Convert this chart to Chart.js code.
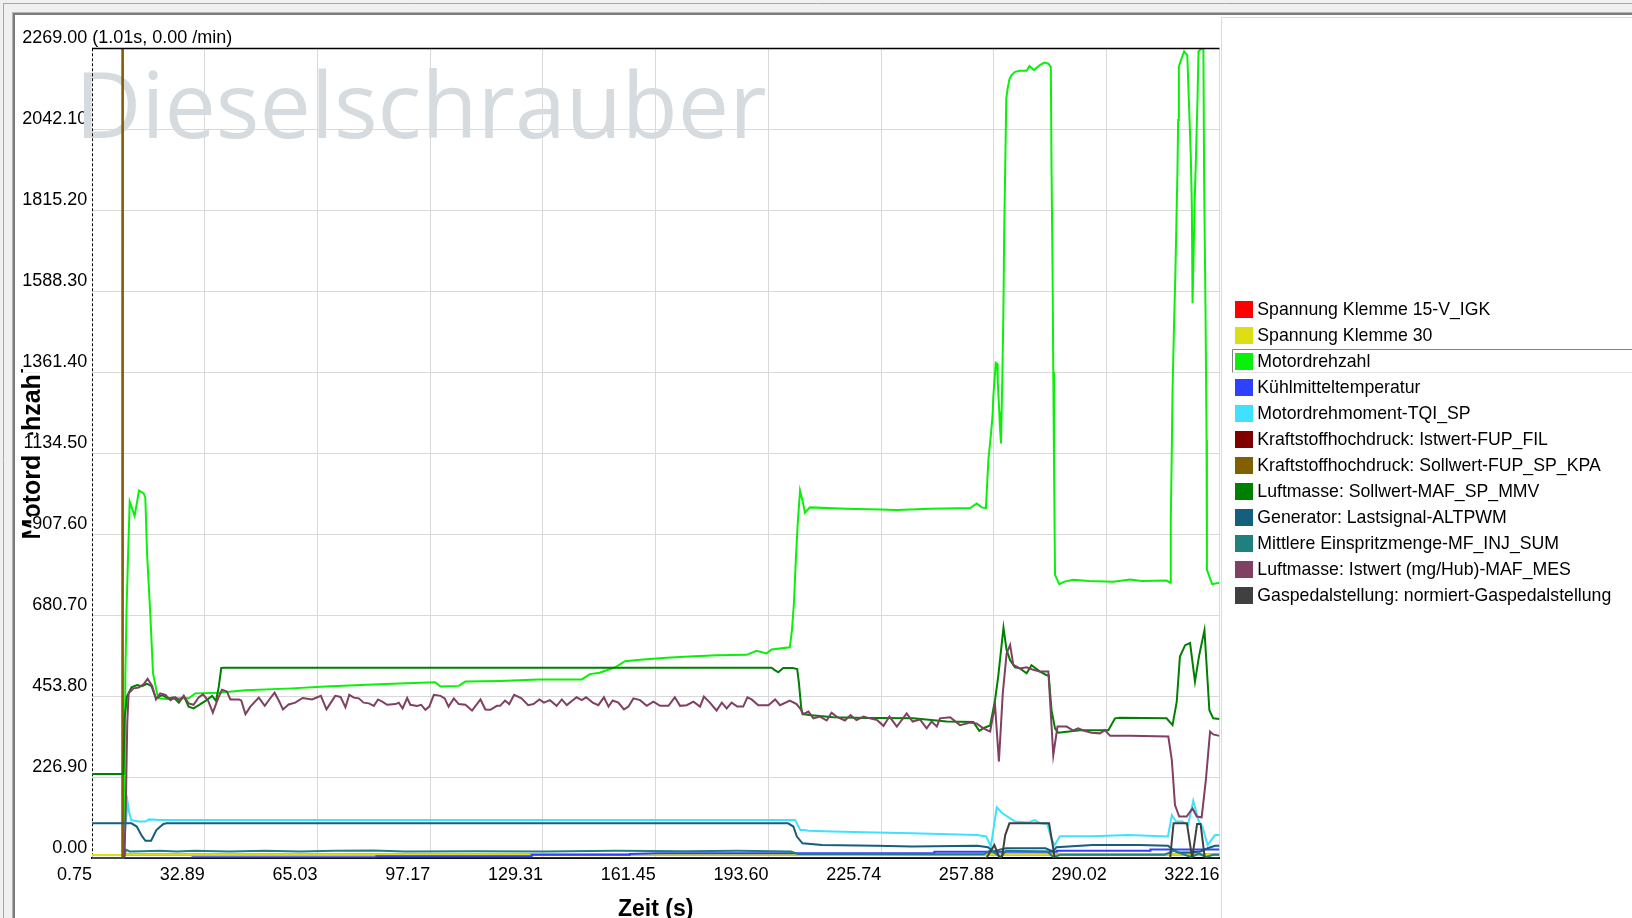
<!DOCTYPE html>
<html>
<head>
<meta charset="utf-8">
<script src="https://cdn.jsdelivr.net/npm/chart.js@4.4.1/dist/chart.umd.min.js"></script>
<style>
html,body{margin:0;padding:0;background:#fff;overflow:hidden;}
#wrap{position:relative;width:1632px;height:918px;}
canvas{display:block;}
</style>
</head>
<body>
<div id="wrap"><canvas id="c" width="1632" height="918"></canvas></div>
<script>
// ---------------- DATA ----------------
const seriesLabels = [
  'Spannung Klemme 15-V_IGK',
  'Spannung Klemme 30',
  'Motordrehzahl',
  'Kühlmitteltemperatur',
  'Motordrehmoment-TQI_SP',
  'Kraftstoffhochdruck: Istwert-FUP_FIL',
  'Kraftstoffhochdruck: Sollwert-FUP_SP_KPA',
  'Luftmasse: Sollwert-MAF_SP_MMV',
  'Generator: Lastsignal-ALTPWM',
  'Mittlere Einspritzmenge-MF_INJ_SUM',
  'Luftmasse: Istwert (mg/Hub)-MAF_MES',
  'Gaspedalstellung: normiert-Gaspedalstellung'
];
const seriesColors = ['#ff0000','#dede14','#0af00a','#3040ff','#40e0ff','#800000','#806000','#008000','#145e7e','#208080','#7f4062','#404040'];

const xTickValues = [0.75, 32.89, 65.03, 97.17, 129.31, 161.45, 193.60, 225.74, 257.88, 290.02, 322.16];
const xTickLabels = ['0.75','32.89','65.03','97.17','129.31','161.45','193.60','225.74','257.88','290.02','322.16'];
const yTickValues = [0, 226.9, 453.8, 680.7, 907.6, 1134.5, 1361.4, 1588.3, 1815.2, 2042.1, 2269];
const yTickLabels = ['0.00','226.90','453.80','680.70','907.60','1134.50','1361.40','1588.30','1815.20','2042.10','2269.00'];
const cursorInfo = '(1.01s, 0.00 /min)';
const xTitle = 'Zeit (s)';
const yTitle = 'Motordrehzahl';
const watermarkText = 'Dieselschrauber';

// [time s, value]
const klemme15 = [[0.75,9],[9.5,9],[10,10.5],[322.16,10.5]];
const klemme30 = [[0.75,9],[9.5,9],[10,10.5],[322.16,10.5]];
const motordrehzahl = [[0.75,0],[9.9,0],[10.25,509],[10.6,700],[11.0,836],[11.5,999],[12.0,985],[12.9,959],[14.15,1030],[15.5,1022],[15.95,1010],[16.45,854],[17.4,677],[18.15,518],[19.3,462],[19.8,448],[22,446],[26,448],[28.3,448],[30.2,462],[36.9,464],[44.5,471],[57.8,476],[67.3,481],[84.4,488],[98.6,493],[100.1,481],[105.3,483],[107.2,495],[117.1,497],[128,501],[140.4,501],[142.7,516],[145.5,520],[149.9,535],[152.7,552],[157.9,557],[164.6,562],[171,565],[178.8,569],[187.4,570],[190.2,581],[193.1,574],[194.5,585],[199.7,591],[200.3,640],[200.9,720],[201.4,836],[201.9,930],[202.6,1030],[203.4,999],[204.0,968],[205.4,983],[215.9,979],[225.4,977],[230.2,976],[239.7,979],[251.1,981],[253.0,994],[254.4,983],[255.6,981],[256.3,1116],[257.1,1195],[257.5,1242],[257.7,1293],[258.4,1388],[258.8,1385],[258.95,1340],[259.4,1251],[259.6,1209],[259.9,1162],[260.1,1162],[260.3,1359],[260.6,1550],[260.8,1746],[261.1,1937],[261.4,2129],[261.8,2157],[262.3,2182],[262.9,2194],[263.9,2203],[265.3,2206],[267.2,2206],[268.0,2219],[269.3,2208],[271.0,2222],[272.3,2229],[273.4,2226],[274.1,2217],[274.3,1933],[274.6,1648],[274.8,1363],[275.0,1116],[275.3,794],[276.5,768],[278,775],[280.5,780],[285,777],[291.9,775],[296.7,781],[300,777],[307.1,778],[308.1,772],[308.3,948],[308.55,1116],[308.8,1307],[309.2,1485],[309.6,1634],[309.9,1779],[310.2,1923],[310.4,2068],[310.6,2217],[311.2,2236],[312.1,2260],[313.0,2250],[313.5,2110],[314.0,1970],[314.3,1830],[314.5,1555],[314.8,1690],[315.1,1835],[315.5,1975],[315.9,2119],[316.2,2260],[317.1,2269],[317.6,2265],[317.8,1905],[318.2,1536],[318.5,1172],[318.6,808],[320.1,768],[322.16,772]];
const kuehlmittel = [[0.75,1],[29.3,1],[29.4,3],[81.7,3],[81.8,6],[126,6],[126.1,10],[154,10],[154.1,12],[162,14],[240.8,14],[240.9,18],[275.7,18],[275.8,21],[302.4,21],[302.5,25],[322.16,25]];
const drehmomentTQI = [[0.75,0],[9.6,0],[10.0,60],[10.9,158],[11.4,126],[11.95,107],[14.0,103],[16.0,103],[17.0,109],[20,107],[201.2,107],[202.7,79],[203.8,79],[205,77],[212.0,75],[224.3,72],[234.6,70],[253.1,65],[255.7,61],[257.0,33],[258.7,143],[260.3,126],[263.9,103],[267.5,100],[269.5,107],[271.1,98],[273.1,96],[274.2,56],[275.2,37],[276.7,62],[286.0,62],[296.2,65],[307.5,61],[308.6,121],[309.8,103],[311.6,103],[313.2,93],[314.7,161],[316.3,103],[317.3,89],[318.8,37],[320.9,65],[322.16,65]];
const fupIst = [[0.75,0],[9.45,0],[9.7,30000],[322.16,30000]];
const fupSoll = [[0.75,0],[9.5,0],[9.75,35000],[322.16,35000]];
const mafSoll = [[0.75,236],[9.7,236],[10.0,387],[10.7,453],[12.0,479],[13.6,485],[15.0,482],[16.4,489],[17.7,482],[19.0,448],[20.7,457],[22.6,448],[24.0,451],[25.5,436],[26.9,455],[28.3,425],[29.7,420],[31.2,429],[33.1,441],[35.0,455],[36.1,441],[36.9,481],[37.6,533],[38.5,534],[194.5,534],[195.3,528],[196.4,521],[197.8,533],[200.5,533],[201.8,530],[202.3,490],[202.9,425],[203.3,404],[205.9,401],[212.1,395],[221.6,393],[225.4,393],[234.9,392],[244.4,383],[252.0,382],[253.7,357],[255.0,365],[256.8,372],[258.2,443],[259.1,509],[260.6,646],[261.5,583],[262.5,555],[263.9,535],[265.3,532],[267.2,518],[268.6,541],[271.0,523],[272.9,513],[273.5,513],[274.3,415],[275.3,364],[276.2,352],[282.4,359],[290.5,359],[292.4,392],[293.8,394],[307.1,392],[308.8,373],[310.0,439],[310.9,565],[312.4,597],[313.8,603],[315.2,495],[316.4,569],[317.9,639],[319.3,415],[320.4,392],[322.16,390]];
const generatorLast = [[0.75,98],[12.0,98],[13.5,89],[15.0,62],[16.0,49],[17.6,49],[19.1,79],[21.1,96],[22,98],[199.2,98],[200.7,89],[201.7,61],[203.3,42],[208.9,37],[224.3,35],[234.6,33],[253.1,35],[256.2,31],[257.7,19],[259.8,25],[261.3,28],[272.6,28],[274.7,19],[275.7,31],[286.0,37],[299.3,37],[307.5,35],[309.1,23],[310.6,16],[313.6,16],[316.8,19],[318.8,28],[320.9,35],[322.16,35]];
const einspritzmenge = [[0.75,0],[9.8,0],[10.4,24],[11.5,19],[15,20],[20,21],[25,19],[30,21],[40,19],[50,21],[60,19],[70,21],[81,22],[90,19],[110,20],[130,19],[150,21],[170,20],[185,21],[200,19],[202,12],[220,12],[240,11],[255,11],[257,23],[259.8,3],[261.3,21],[273.1,19],[274.9,3],[276.7,10],[306.5,10],[309.1,21],[314.2,3],[316.3,14],[318.3,3],[320.4,10],[322.16,10]];
const mafIst = [[0.75,0],[10.0,0],[10.4,150],[10.8,380],[11.2,462],[12.6,476],[14.05,478],[15.5,488],[16.6,503],[17.9,483],[19.0,445],[20.2,462],[21.7,458],[23.1,443],[24.5,451],[25.7,442],[26.9,455],[28.3,434],[29.7,430],[31.2,451],[32.4,459],[33.8,443],[35.2,408],[36.7,448],[37.8,472],[39.2,467],[40.2,445],[42.6,445],[43.3,442],[44.5,404],[45.9,425],[48.3,450],[50.0,427],[51.1,442],[52.8,464],[54.0,442],[55.2,417],[56.8,431],[58.7,436],[60.8,449],[63.5,445],[66.0,455],[67.6,417],[68.7,434],[70.1,455],[71.6,452],[73.0,423],[74.1,458],[75.4,450],[76.8,448],[78.2,436],[79.7,434],[81.1,427],[82.3,445],[83.5,439],[84.9,430],[87.3,432],[88.2,436],[89.3,420],[90.6,449],[91.5,430],[93.4,427],[94.6,430],[95.8,416],[96.9,425],[98.2,458],[100.1,455],[101.3,448],[102.4,425],[103.9,448],[105.3,432],[107.2,430],[109.1,414],[111.5,445],[112.9,417],[114.3,416],[116.2,427],[117.1,427],[118.5,442],[119.7,432],[121.1,458],[123.2,448],[125.1,429],[126.6,432],[128.3,445],[129.6,436],[131.3,443],[133.2,427],[134.7,445],[136.1,429],[138.9,451],[140.4,443],[141.6,451],[143.5,436],[145.1,429],[146.7,451],[148.0,425],[149.2,442],[150.8,436],[152.4,417],[153.7,425],[155.1,448],[157.0,443],[158.9,427],[160.8,439],[162.7,427],[165.1,427],[166.9,451],[168.4,427],[170.3,429],[172.2,439],[174.1,425],[175.2,453],[176.9,436],[178.8,414],[180.3,436],[181.7,420],[183.1,436],[184.7,425],[186.4,425],[187.6,451],[188.8,445],[190.7,429],[193.6,429],[195.5,445],[196.9,429],[199.7,442],[201.6,432],[202.6,420],[203.5,404],[205.0,411],[206.4,392],[208.3,397],[210.2,386],[211.6,408],[213.0,397],[215.4,386],[217.0,401],[218.7,387],[220.7,397],[222.5,392],[224.6,387],[226.4,371],[228.1,397],[230.2,369],[233.0,406],[234.7,383],[236.8,389],[238.7,364],[240.1,383],[241.6,369],[242.5,392],[245.4,395],[248.2,373],[251.1,380],[252.9,378],[254.9,364],[256.8,355],[258.2,429],[259.3,271],[260.4,462],[261.5,574],[262.5,598],[263.4,542],[265.3,532],[267.2,535],[269.1,528],[271.0,523],[273.4,523],[274.8,289],[276.0,369],[278.6,369],[280.5,358],[281.9,364],[283.4,358],[285.7,352],[288.1,350],[289.5,359],[291.0,343],[296.7,343],[307.6,341],[308.6,275],[309.5,149],[310.7,117],[312.8,117],[314.5,140],[315.7,117],[317.1,115],[318.3,219],[319.5,355],[320.4,347],[322.16,343]];
const gaspedal = [[0.75,0],[255.7,0],[258.0,37],[259.5,0],[260.2,5],[261.1,65],[262.3,98],[273.6,98],[274.7,33],[275.2,0],[308.1,0],[309.1,98],[312.9,98],[314.4,0],[315.8,96],[316.8,96],[318.0,0],[322.16,0]];

const seriesData = [klemme15, klemme30, motordrehzahl, kuehlmittel, drehmomentTQI, fupIst, fupSoll, mafSoll, generatorLast, einspritzmenge, mafIst, gaspedal];

const TICK_FAMILY = '"Liberation Sans", Arial, sans-serif';
const TICK_SIZE = 18;
const Y_TICK_PAD = 4.7;

// ---------------- PLUGINS ----------------
const framePlugin = {
  id: 'frame',
  beforeDraw(chart) {
    const c = chart.ctx;
    c.save();
    c.fillStyle = '#f0f0f0';
    c.fillRect(0, 0, 1632, 918);
    c.fillStyle = '#ffffff';
    c.fillRect(15, 15, 1617, 903);
    const hl = (y, x0, col, w) => { c.strokeStyle = col; c.lineWidth = w; c.beginPath(); c.moveTo(x0, y); c.lineTo(1632, y); c.stroke(); };
    const vl = (x, y0, col, w) => { c.strokeStyle = col; c.lineWidth = w; c.beginPath(); c.moveTo(x, y0); c.lineTo(x, 918); c.stroke(); };
    hl(3.5, 3, '#a8a8a8', 1);
    vl(3.5, 3, '#a8a8a8', 1);
    hl(12.5, 12, '#b4b4b4', 1);
    vl(12.5, 12, '#b4b4b4', 1);
    hl(14, 13, '#7c7c7c', 2);
    vl(14, 13, '#7c7c7c', 2);
    c.restore();
  },
  beforeDatasetsDraw(chart) {
    const c = chart.ctx;
    const a = chart.chartArea;
    c.save();
    c.font = '91.5px "Open Sans", "Noto Sans", sans-serif';
    c.fillStyle = '#d6dbdf';
    c.textBaseline = 'alphabetic';
    c.textAlign = 'left';
    c.fillText(watermarkText, 75, 138.3);
    // dashed left border of the plot
    c.strokeStyle = '#000';
    c.lineWidth = 1;
    c.setLineDash([3, 2]);
    const x = Math.round(a.left) + 0.5;
    c.beginPath();
    c.moveTo(x, a.top);
    c.lineTo(x, a.bottom);
    c.stroke();
    c.restore();
  },
  afterDraw(chart) {
    const c = chart.ctx;
    const a = chart.chartArea;
    const ys = chart.scales.y;
    c.save();
    // cursor info next to the top tick label
    c.font = TICK_SIZE + 'px ' + TICK_FAMILY;
    c.textBaseline = 'middle';
    c.textAlign = 'left';
    c.fillStyle = '#000';
    c.fillText(cursorInfo, ys.right - Y_TICK_PAD + c.measureText(' ').width, ys.getPixelForValue(yTickValues[yTickValues.length - 1]) - 10);
    // top border of plot
    c.strokeStyle = '#000';
    c.lineWidth = 1.3;
    c.beginPath();
    c.moveTo(a.left, 48.5);
    c.lineTo(a.right, 48.5);
    c.stroke();
    // legend panel
    c.strokeStyle = '#dcdcdc';
    c.lineWidth = 1;
    c.beginPath();
    c.moveTo(1221.5, 918);
    c.lineTo(1221.5, 17.5);
    c.lineTo(1632, 17.5);
    c.stroke();
    c.font = '17.7px "Liberation Sans", Arial, sans-serif';
    c.textBaseline = 'middle';
    c.textAlign = 'left';
    chart.data.datasets.forEach((ds, i) => {
      const top = 301 + 26 * i;
      c.fillStyle = ds.borderColor;
      c.fillRect(1235, top, 18, 17);
      c.fillStyle = '#000';
      c.fillText(ds.label, 1257.3, top + 9);
    });
    // selection frame around "Motordrehzahl"
    c.strokeStyle = '#828282';
    c.beginPath();
    c.moveTo(1232.5, 372.5);
    c.lineTo(1232.5, 349.5);
    c.lineTo(1632, 349.5);
    c.stroke();
    c.strokeStyle = '#e2e2e2';
    c.beginPath();
    c.moveTo(1233, 372.5);
    c.lineTo(1632, 372.5);
    c.stroke();
    c.restore();
  }
};

// ---------------- CHART ----------------
function makeChart() {
  const ctx = document.getElementById('c').getContext('2d');
  new Chart(ctx, {
    type: 'line',
    data: {
      datasets: seriesLabels.map((label, i) => ({
        label: label,
        data: seriesData[i],
        borderColor: seriesColors[i],
        backgroundColor: seriesColors[i],
        borderWidth: 2,
        pointRadius: 0,
        pointHoverRadius: 0,
        tension: 0,
        fill: false,
        order: seriesLabels.length - i
      }))
    },
    options: {
      responsive: false,
      animation: false,
      devicePixelRatio: 1,
      events: [],
      layout: { padding: { left: 23, top: 48.3, right: 412.6, bottom: 0 } },
      plugins: {
        legend: { display: false },
        tooltip: { enabled: false }
      },
      scales: {
        x: {
          type: 'linear',
          min: 0.75,
          max: 322.16,
          afterBuildTicks: (s) => { s.ticks = xTickValues.map(v => ({ value: v })); },
          afterFit: (s) => { s.height = 59.7; },
          grid: {
            color: (c) => c.index === 0 ? 'rgba(0,0,0,0)' : '#d9d9d9',
            lineWidth: 1,
            drawTicks: false
          },
          border: { color: '#000', width: 2 },
          ticks: {
            align: 'end',
            padding: 6.2,
            color: '#000',
            font: { family: TICK_FAMILY, size: TICK_SIZE },
            maxRotation: 0,
            minRotation: 0,
            autoSkip: false,
            callback: (v, i) => xTickLabels[i]
          },
          title: {
            display: true,
            text: xTitle,
            color: '#000',
            font: { family: TICK_FAMILY, size: 23, weight: 'bold' },
            padding: { top: 0, bottom: -5.5 }
          }
        },
        y: {
          type: 'linear',
          min: 0,
          max: 2269,
          afterBuildTicks: (s) => { s.ticks = yTickValues.map(v => ({ value: v })); },
          afterFit: (s) => { s.width = 69; },
          grid: {
            color: (c) => (c.index === 0) ? 'rgba(0,0,0,0)' : '#d9d9d9',
            lineWidth: 1,
            drawTicks: false
          },
          border: { display: false },
          ticks: {
            crossAlign: 'near',
            labelOffset: -10,
            padding: Y_TICK_PAD,
            color: '#000',
            font: { family: TICK_FAMILY, size: TICK_SIZE, lineHeight: 0.95 },
            showLabelBackdrop: true,
            backdropColor: '#ffffff',
            backdropPadding: { top: 0, bottom: 2, left: 1, right: 1 },
            autoSkip: false,
            callback: (v, i) => yTickLabels[i]
          },
          title: {
            display: true,
            text: yTitle,
            color: '#000',
            font: { family: TICK_FAMILY, size: 25, weight: 'bold', lineHeight: 1 },
            padding: { top: -1.9, bottom: 0 }
          }
        }
      }
    },
    plugins: [framePlugin]
  });
}

let started = false;
function start() { if (started) return; started = true; makeChart(); }
if (document.fonts && document.fonts.load) {
  Promise.all([
    document.fonts.load('18px "Liberation Sans"'),
    document.fonts.load('bold 25px "Liberation Sans"'),
    document.fonts.load('90px "Open Sans"')
  ]).then(start, start);
  setTimeout(start, 300);
} else {
  start();
}
</script>
</body>
</html>
